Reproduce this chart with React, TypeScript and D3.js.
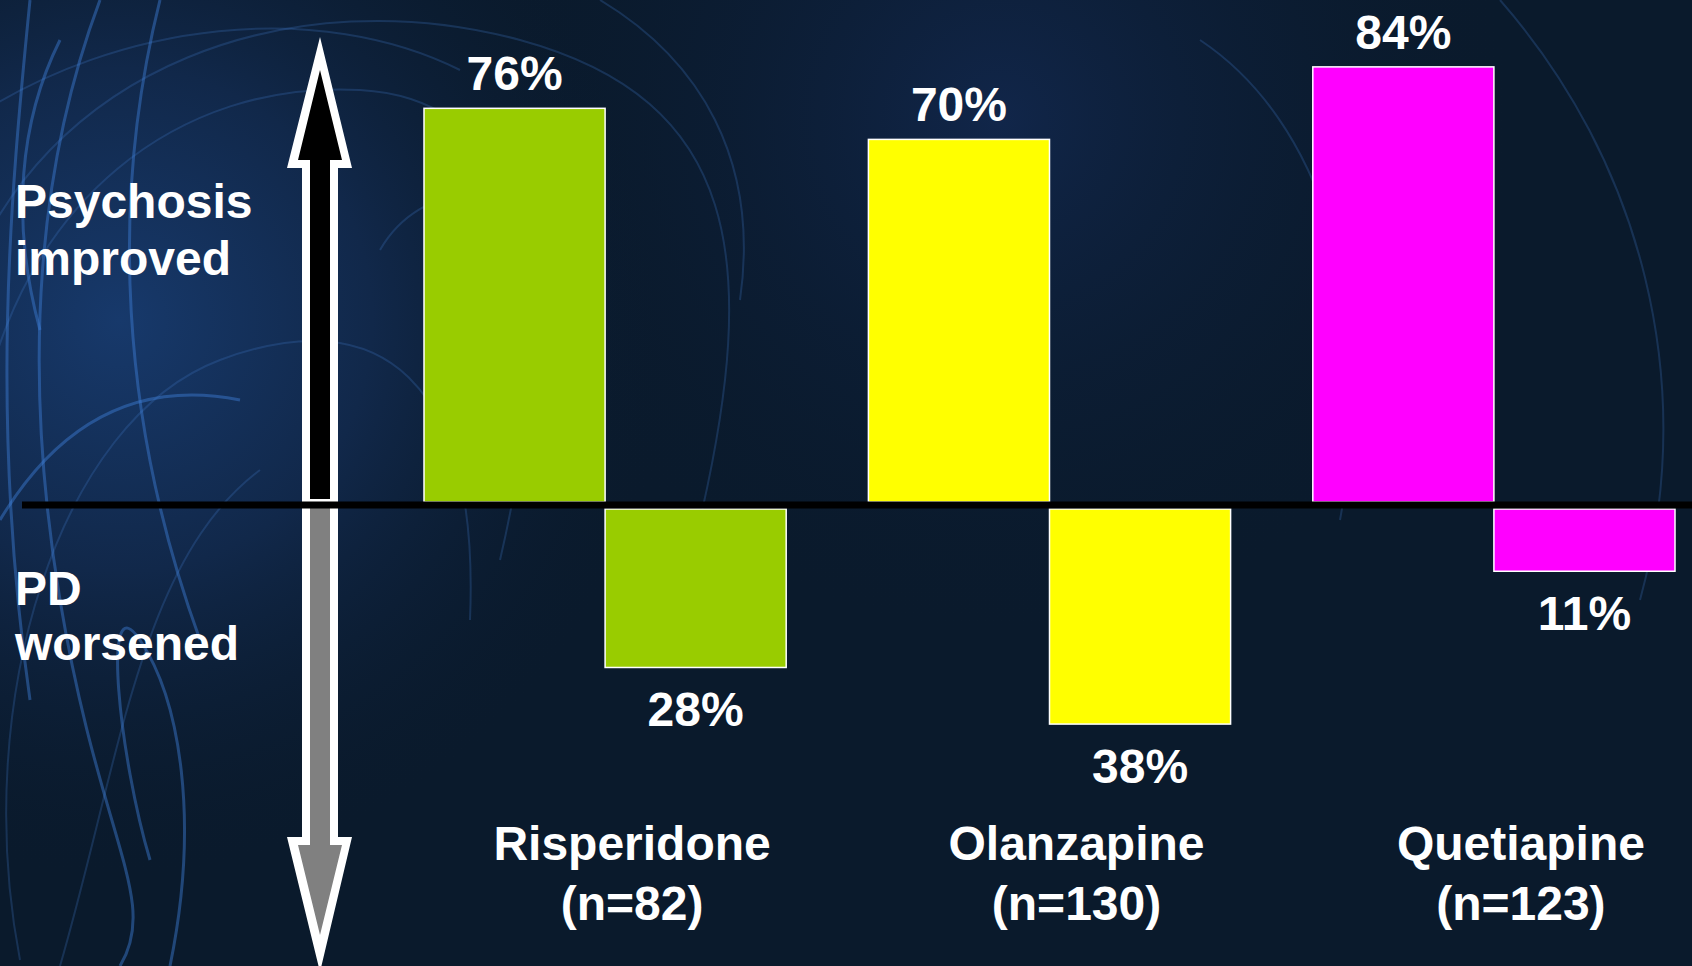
import React from "react";
import * as d3 from "d3";

const categories = ["Risperidone", "Olanzapine", "Quetiapine"];
const sampleSizes = ["(n=82)", "(n=130)", "(n=123)"];
const psychosisImproved = [76, 70, 84];
const pdWorsened = [28, 38, 11];
const barColors = ["#99CC00", "#FFFF00", "#FF00FF"];
const sideLabelsTop = ["Psychosis", "improved"];
const sideLabelsBottom = ["PD", "worsened"];

const W = 1692;
const H = 966;
const FONT = "'Liberation Sans', Arial, Helvetica, sans-serif";

export default function App() {
  const x = d3.scaleBand<string>().domain(categories).range([424, 1675]).paddingInner(0.185).paddingOuter(0);
  const half = x.bandwidth() / 2;
  const yUp = d3.scaleLinear().domain([0, 100]).range([502, 502 - 518]);
  const yDown = d3.scaleLinear().domain([0, 100]).range([509, 509 + 566]);
  const baseY = 505;
  const cx = 320;

  const upOuter: [number, number][] = [[cx, 37], [cx + 32, 168], [cx + 18, 168], [cx + 18, baseY], [cx - 18, baseY], [cx - 18, 168], [cx - 33, 168]];
  const upInner: [number, number][] = [[cx, 70], [cx + 22, 160], [cx + 10, 160], [cx + 10, baseY - 6], [cx - 10, baseY - 6], [cx - 10, 160], [cx - 22, 160]];
  const dnOuter: [number, number][] = [[cx - 18, baseY], [cx + 18, baseY], [cx + 18, 837], [cx + 32, 837], [cx, 972], [cx - 33, 837], [cx - 18, 837]];
  const dnInner: [number, number][] = [[cx - 10, baseY + 3], [cx + 10, baseY + 3], [cx + 10, 845], [cx + 22, 845], [cx, 935], [cx - 22, 845], [cx - 10, 845]];
  const poly = (p: [number, number][]) => "M" + p.map((q) => q.join(",")).join("L") + "Z";

  const swirls = [
    "M-40,300 C40,60 300,-20 520,40 S760,260 700,520",
    "M-20,420 C20,200 180,80 360,90 S560,300 500,560",
    "M20,960 C-30,700 60,420 220,360 S480,380 470,620",
    "M60,966 C120,760 140,560 260,470",
    "M-30,120 C120,20 320,0 460,70",
    "M380,250 C420,180 520,170 560,260 S520,420 450,380",
    "M1200,40 C1320,120 1380,300 1340,520",
    "M1500,0 C1640,160 1700,380 1640,600",
    "M600,0 C700,60 760,160 740,300",
  ];
  const brightSwirls = [
    "M100,0 C40,160 20,360 60,600 S160,900 120,966",
    "M160,0 C110,200 120,420 200,640",
    "M30,0 C10,200 -10,420 30,700",
    "M170,966 C200,820 180,700 140,640 S120,760 150,860",
    "M0,520 C60,420 140,380 240,400",
    "M60,40 C20,120 10,220 40,330",
  ];

  return (
    <svg width={W} height={H} style={{ position: "fixed", left: 0, top: 0, display: "block" }} fontFamily={FONT}>
      <defs>
        <radialGradient id="glow" cx="120" cy="320" r="560" gradientUnits="userSpaceOnUse">
          <stop offset="0" stopColor="#17396b" />
          <stop offset="0.45" stopColor="#11284a" />
          <stop offset="1" stopColor="#0a1a2d" stopOpacity="0" />
        </radialGradient>
        <radialGradient id="glow2" cx="1000" cy="120" r="520" gradientUnits="userSpaceOnUse">
          <stop offset="0" stopColor="#11264a" />
          <stop offset="1" stopColor="#0a1a2d" stopOpacity="0" />
        </radialGradient>
      </defs>
      <rect width={W} height={H} fill="#0a1a2c" />
      <rect width={W} height={H} fill="url(#glow2)" />
      <rect width={W} height={H} fill="url(#glow)" />
      <g fill="none" stroke="#3d72c0" strokeOpacity={0.28} strokeWidth={2}>
        {swirls.map((d, i) => (
          <path key={i} d={d} />
        ))}
      </g>
      <g fill="none" stroke="#3f7fd6" strokeOpacity={0.45} strokeWidth={3}>
        {brightSwirls.map((d, i) => (
          <path key={i} d={d} />
        ))}
      </g>

      {/* arrows */}
      <path d={poly(upOuter)} fill="#ffffff" />
      <path d={poly(upInner)} fill="#000000" />
      <path d={poly(dnOuter)} fill="#ffffff" />
      <path d={poly(dnInner)} fill="#808080" />

      {/* bars */}
      {categories.map((c, i) => {
        const x0 = x(c) as number;
        return (
          <g key={c}>
            <rect x={x0} y={yUp(psychosisImproved[i])} width={half} height={yUp(0) - yUp(psychosisImproved[i])} fill={barColors[i]} stroke="#ffffff" strokeWidth={1.5} />
            <rect x={x0 + half} y={yDown(0)} width={half} height={yDown(pdWorsened[i]) - yDown(0)} fill={barColors[i]} stroke="#ffffff" strokeWidth={1.5} />
          </g>
        );
      })}

      <line x1={22} x2={W} y1={baseY} y2={baseY} stroke="#000000" strokeWidth={7} />

      {/* value labels */}
      <g fill="#ffffff" fontWeight="bold" fontSize={48} textAnchor="middle">
        {categories.map((c, i) => {
          const x0 = x(c) as number;
          return (
            <g key={c}>
              <text x={x0 + half / 2} y={yUp(psychosisImproved[i]) - 18}>{psychosisImproved[i]}%</text>
              <text x={x0 + half * 1.5} y={yDown(pdWorsened[i]) + 59}>{pdWorsened[i]}%</text>
              <text x={x0 + half + 27} y={860}>{c}</text>
              <text x={x0 + half + 27} y={920}>{sampleSizes[i]}</text>
            </g>
          );
        })}
      </g>

      {/* side labels */}
      <g fill="#ffffff" fontWeight="bold" fontSize={48}>
        <text x={15} y={218}>{sideLabelsTop[0]}</text>
        <text x={15} y={275}>{sideLabelsTop[1]}</text>
        <text x={15} y={605}>{sideLabelsBottom[0]}</text>
        <text x={15} y={660}>{sideLabelsBottom[1]}</text>
      </g>
    </svg>
  );
}
